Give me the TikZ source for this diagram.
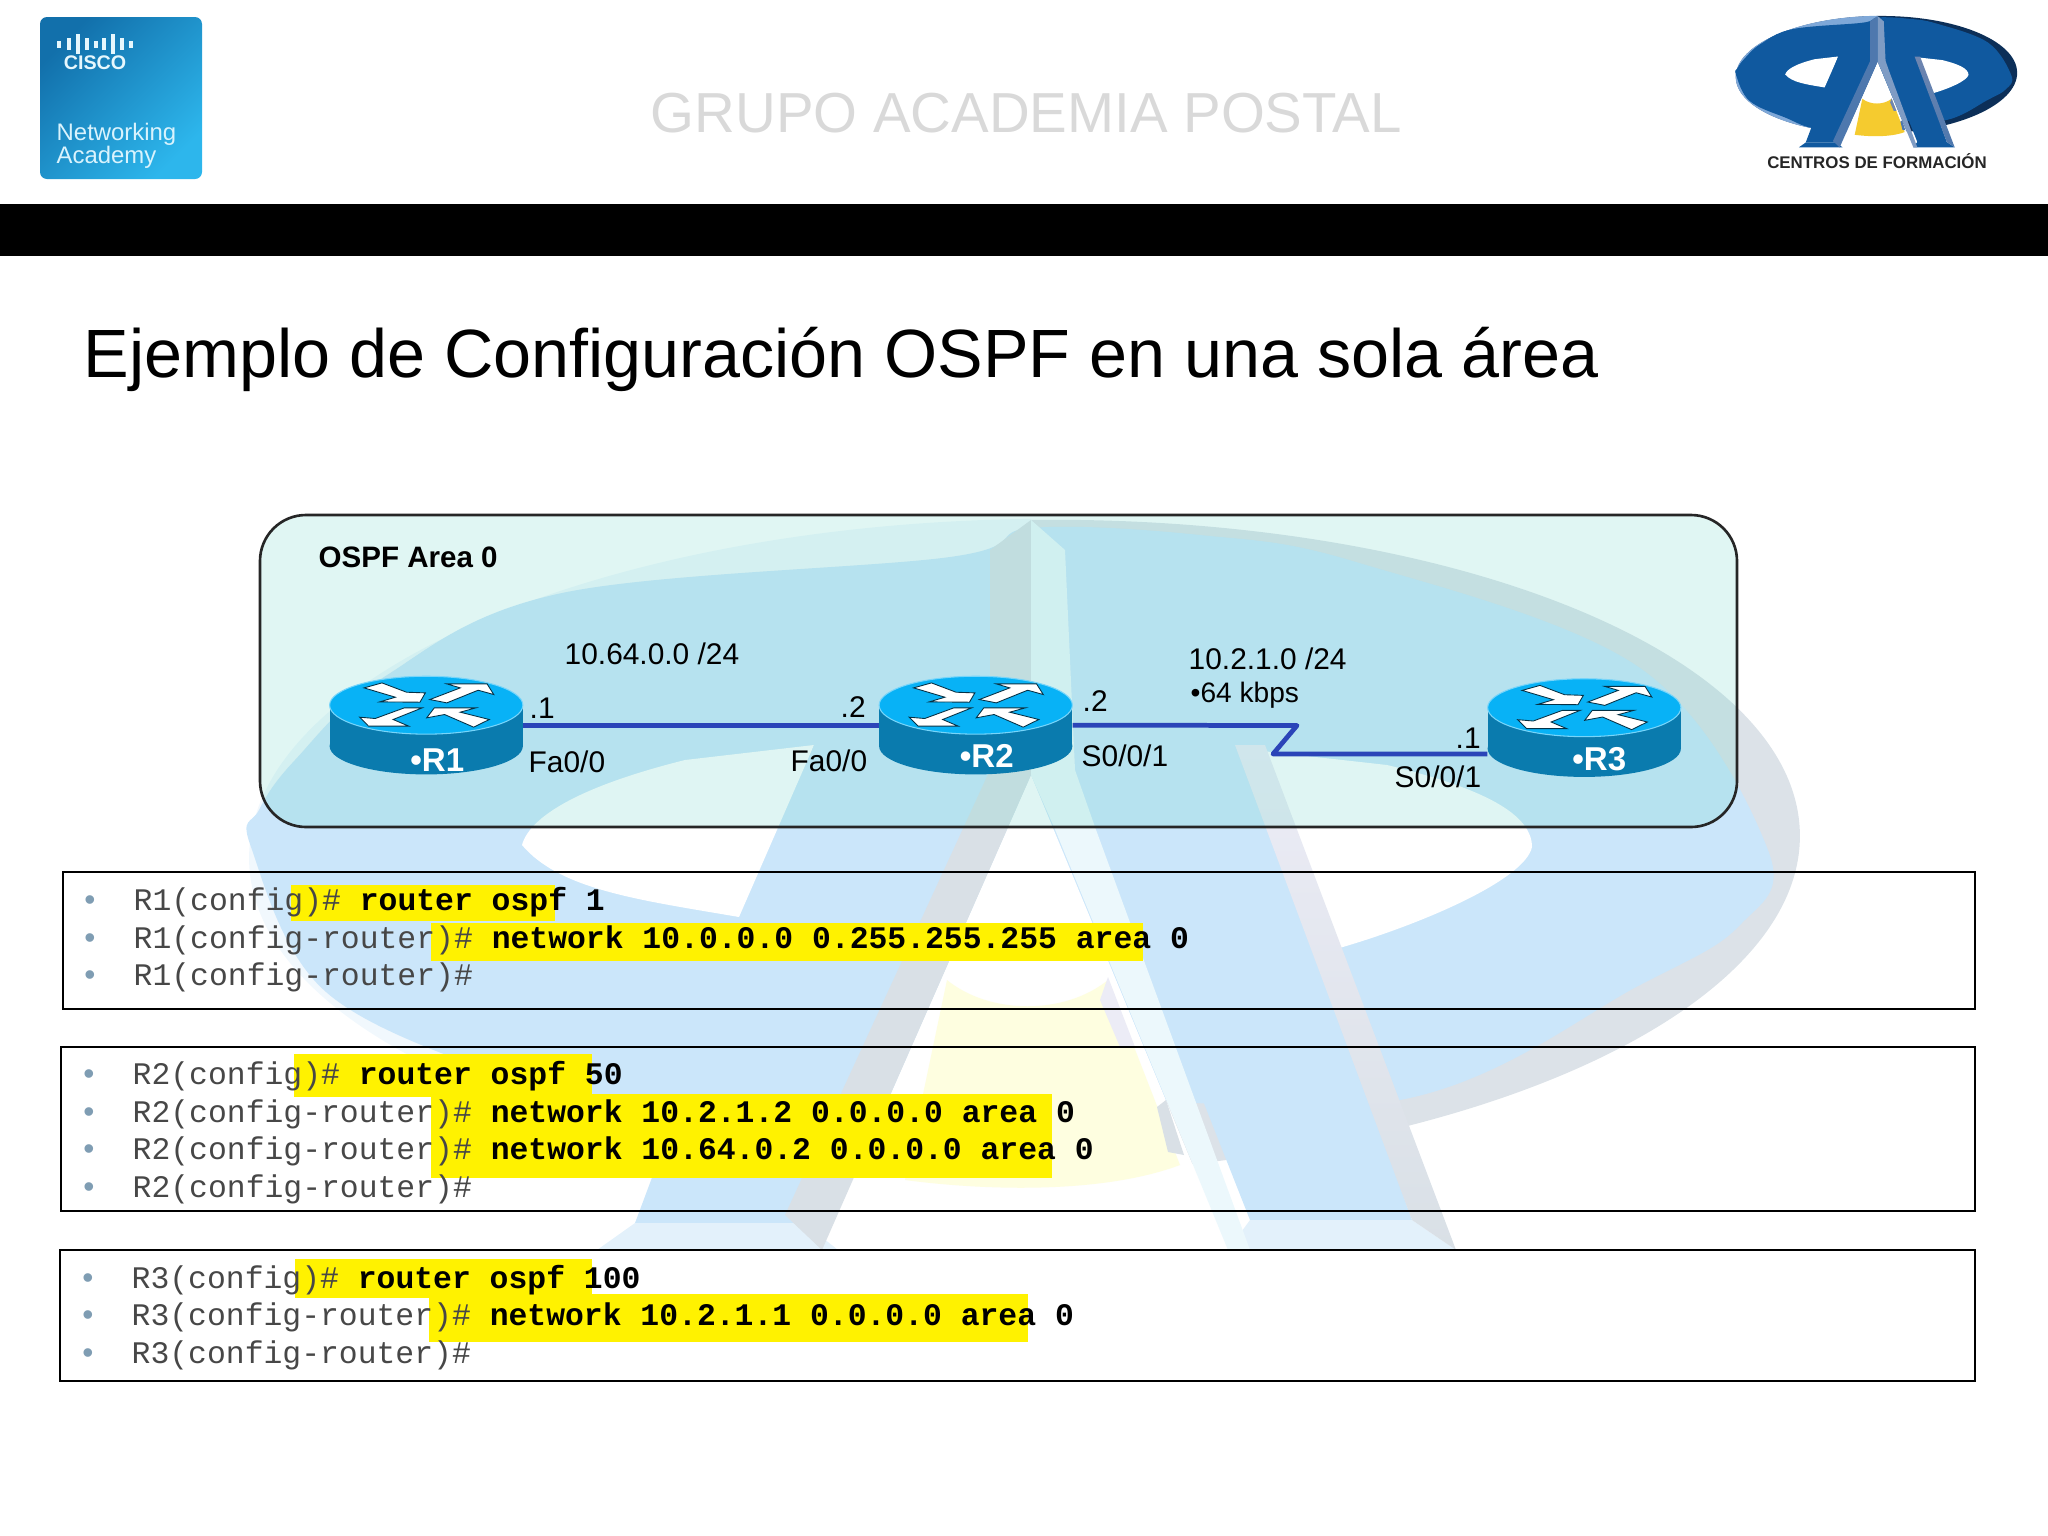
\documentclass[tikz,border=0pt]{standalone}
\usepackage{fontspec}
\setmainfont{Liberation Sans}
\setmonofont{Liberation Mono}
\definecolor{linkblue}{HTML}{2B44B8}
\definecolor{routertop}{HTML}{08B2F6}
\definecolor{routerside}{HTML}{0A7BAE}
\definecolor{areatint}{rgb}{0.42,0.83,0.78}
\definecolor{bulletblue}{HTML}{7F9DB3}
\definecolor{ciscodark}{HTML}{1270AB}
\definecolor{ciscolight}{HTML}{2DB6EC}
\newcommand{\markshape}{%
  \fill[markedge, shift={(1025,847)}, rotate=1] (0,0) ellipse [x radius=775, y radius=327];
  \begin{scope}
    \clip (0,0) rectangle (1031,1300);
    \fill[markhigh, shift={(1025,847)}, rotate=1] (0,0) ellipse [x radius=776, y radius=328];
  \end{scope}
  \fill[markblue] plot[smooth cycle, tension=.6] coordinates {(1031,528) (1200,535) (1356,562) (1640,668) (1768,850) (1740,925) (1640,985) (1400,1100) (1031,1100) (710,1146) (522,1084) (326,992) (251,847) (259,810) (295,760) (384,677) (562,593) (950,557)};
  \fill[white] (522,845) .. controls (530,816) and (581,786) .. (685,760) -- (814,745) -- (739,917) .. controls (640,900) and (560,890) .. cycle;
  \fill[white] (1253,750) -- (1387,765) .. controls (1470,785) and (1532,810) .. (1532,847) .. controls (1525,880) and (1420,925) .. (1336,949) -- cycle;
  \fill[white] (1031,775) -- (822,1250) -- (1228,1250) -- cycle;
  \fill[markblue] (814,745) -- (635,1223) -- (804,1223) -- (990,770) -- (990,560) -- cycle;
  \fill[markblue] (1062,560) -- (1095,827) -- (1250,1220) -- (1412,1220) -- (1262,800) -- (1253,560) -- cycle;
  \fill[markcap] (635,1223) -- (804,1223) -- (838,1250) -- (597,1250) -- cycle;
  \fill[markcap] (1250,1220) -- (1412,1220) -- (1456,1250) -- (1228,1250) -- cycle;
  \fill[markleft] (1031,520) -- (990,550) -- (990,770) -- (785,1215) -- (822,1250) -- (1031,775) -- cycle;
  \fill[markbevel] (1031,520) -- (1065,550) -- (1075,770) -- (1095,827) -- (1250,1250) -- (1228,1250) -- (1054,827) -- (1031,775) -- cycle;
  \shade[top color=markband, bottom color=markleft] (1235,745) -- (1265,745) -- (1456,1250) -- (1412,1220) -- cycle;
  \fill[markyellow] (947,980) .. controls (990,1015) and (1065,1015) .. (1108,980) -- (1180,1165) .. controls (1100,1195) and (980,1190) .. (905,1180) -- cycle;
  \fill[markband] (1108,977) -- (1135,1047) -- (1120,1047) -- (1100,1000) -- cycle;
  \fill[markleft] (1157,1107) -- (1166,1100) -- (1184,1155) -- (1168,1152) -- cycle;
}
\begin{document}
\begin{tikzpicture}[x=0.01cm, y=-0.01cm]
    \tikzstyle{lbl}=[anchor=west, inner sep=0pt, font=\fontsize{8.5}{10}\selectfont]
    \tikzstyle{prompt}=[anchor=base west, inner sep=0pt, text=black!72, font=\ttfamily\fontsize{8.93}{10}\selectfont]
    \tikzstyle{dot}=[anchor=base, inner sep=0pt, text=bulletblue, font=\fontsize{9}{10}\selectfont]
    \tikzstyle{hilite}=[fill=yellow]
    \tikzstyle{cfgbox}=[draw=black, line width=0.8pt]
    \tikzstyle{link}=[draw=linkblue, line width=1.35pt, line join=round]
    \tikzstyle{routerbox}=[minimum width=1.92cm, minimum height=0.98cm, inner sep=0pt]
    \tikzstyle{routertag}=[text=white, inner sep=0pt, font=\bfseries\fontsize{9.4}{10}\selectfont]
    \tikzstyle{routerarrow}=[fill=white, draw=black!60!routerside, line width=0.25pt]
    \useasboundingbox (0,0) rectangle (2048,1536);

    \begin{scope}
      \definecolor{markblue}{HTML}{CBE6FA}
      \definecolor{markedge}{HTML}{DCE2E8}
      \definecolor{markhigh}{HTML}{F1F8FD}
      \definecolor{markleft}{HTML}{D9E0E6}
      \definecolor{markband}{HTML}{ECECF6}
      \definecolor{markcap}{HTML}{E3F1FB}
      \definecolor{markbevel}{HTML}{ECF8FC}
      \definecolor{markyellow}{HTML}{FEFEE0}
      \markshape
    \end{scope}

    \draw[fill=areatint, fill opacity=0.21, draw=black!85, line width=0.75pt, rounded corners=0.46cm] (260,515) rectangle (1737,827);
    \node[anchor=west, inner sep=0pt, font=\bfseries\fontsize{8.4}{10}\selectfont] (areaname) at (318,557) {OSPF Area 0};

    \fill[black] (0,204) rectangle (2048,256);
    \node[anchor=base west, inner sep=0pt, text=black!15, font=\fontsize{16.04}{18}\selectfont] (grupo) at (650,132) {GRUPO ACADEMIA POSTAL};
    \node[anchor=base west, inner sep=0pt, font=\fontsize{19.42}{22}\selectfont] (title) at (83,377) {Ejemplo de Configuración OSPF en una sola área};

    \shade[top color=ciscodark, bottom color=ciscolight, shading angle=45, rounded corners=0.07cm] (40,17) rectangle (202,179);
    \foreach \x/\h in {59/7, 69/12, 78/20, 87/12, 96/7, 104/12, 113/20, 122/12, 131/7} {
      \fill[white!90!cyan] ({\x-1.7},{44-\h/2}) rectangle ({\x+1.7},{44+\h/2});
    }
    \node[inner sep=0pt, text=white!90!cyan, font=\bfseries\fontsize{5.6}{6}\selectfont] (ciscoword) at (95,63) {CISCO};
    \node[anchor=north west, inner sep=0pt, align=left, text=white!85!cyan, font=\fontsize{6.8}{6.6}\selectfont] (netacad) at (56,122) {Networking\\Academy};

    \begin{scope}[shift={(1736,16)}, xscale=0.1815, yscale=0.18, shift={(-251,-520)}]
      \definecolor{markblue}{HTML}{10599F}
      \definecolor{markedge}{HTML}{0C2F58}
      \definecolor{markhigh}{HTML}{7FA8D8}
      \definecolor{markleft}{HTML}{4E78AE}
      \definecolor{markband}{HTML}{6F86B0}
      \definecolor{markcap}{HTML}{10599F}
      \definecolor{markbevel}{HTML}{7F9CC4}
      \definecolor{markyellow}{HTML}{F5CB2F}
      \markshape
    \end{scope}
    \node[inner sep=0pt, text=black!85, font=\bfseries\fontsize{4.8}{6}\selectfont] (centros) at (1877,161) {CENTROS DE FORMACIÓN};

    \foreach \name/\ox/\oy/\tx/\ty in {R1/250/511.5/0.11/-0.35, R2/799.5/511.5/0.11/-0.31, R3/1408/514/0.15/-0.31} {
      \begin{scope}[shift={(\ox,\oy)}, x=0.004464cm, y=-0.003333cm]
        \fill[routerside] (178,582) rectangle (610,705);
        \fill[routerside] (394,705) ellipse [x radius=216, y radius=85];
        \filldraw[fill=routertop, draw=routertop!55!white, line width=0.3pt] (394,582) ellipse [x radius=216, y radius=87];
        \filldraw[routerarrow] (255,530) -- (295,515) -- (350,543) -- (392,545) -- (380,573) -- (290,572) -- (325,558) -- cycle;
        \filldraw[routerarrow] (402,565) -- (470,530) -- (440,518) -- (530,518) -- (545,550) -- (510,537) -- (440,575) -- cycle;
        \filldraw[routerarrow] (345,590) -- (385,590) -- (320,625) -- (355,645) -- (265,645) -- (245,618) -- (280,622) -- cycle;
        \filldraw[routerarrow] (535,625) -- (500,648) -- (435,610) -- (395,620) -- (412,590) -- (505,590) -- (470,603) -- cycle;
        \node[routerbox, label={[routertag, xshift=\tx cm, yshift=\ty cm]center:•\name}] (\name) at (394,642) {};
      \end{scope}
    }

    \coordinate (bendA) at (1297,725.5);
    \coordinate (bendB) at (1273,754);
    \draw[link] (R1.east) -- (R2.west);
    \draw[link] (R2.east) -- (bendA) -- (bendB) -- (bendB -| R3.west);

    \node[lbl] (netA) at (564,654) {10.64.0.0 /24};
    \node[lbl] (hostA) at (529,708) {.1};
    \node[lbl] (portA) at (528,762) {Fa0/0};
    \node[lbl] (hostB) at (840,707) {.2};
    \node[lbl] (portB) at (790,761) {Fa0/0};
    \node[lbl] (hostC) at (1082,701) {.2};
    \node[lbl] (portC) at (1081,756) {S0/0/1};
    \node[lbl] (netB) at (1188,659) {10.2.1.0 /24};
    \node[lbl, font=\fontsize{8}{10}\selectfont] (speed) at (1190,695) {•64 kbps};
    \node[lbl] (hostD) at (1455,738) {.1};
    \node[lbl] (portD) at (1394,777) {S0/0/1};

    \foreach \xa/\ya/\xb/\yb in {291/885/555/921, 431/923/1143/961, 294/1054/592/1097, 431/1094/1052/1178, 295/1259/592/1298, 429/1294/1028/1342} {
      \fill[hilite] (\xa,\ya) rectangle (\xb,\yb);
    }
    \foreach \xa/\ya/\yb in {63/872/1009, 61/1047/1211, 60/1250/1381} {
      \draw[cfgbox] (\xa,\ya) rectangle (1975,\yb);
    }
    \foreach \y/\x/\pre/\cmd in {
      910/133/R1(config)/router ospf 1,
      948/133/R1(config-router)/network 10.0.0.0 0.255.255.255 area 0,
      985/133/R1(config-router)/,
      1084/132/R2(config)/router ospf 50,
      1122/132/R2(config-router)/network 10.2.1.2 0.0.0.0 area 0,
      1159/132/R2(config-router)/network 10.64.0.2 0.0.0.0 area 0,
      1197/132/R2(config-router)/,
      1288/131/R3(config)/router ospf 100,
      1325/131/R3(config-router)/network 10.2.1.1 0.0.0.0 area 0,
      1363/131/R3(config-router)/} {
      \node[dot] (dot\y) at ({\x-43},\y) {•};
      \node[prompt] (line\y) at (\x,\y) {\pre\#\ \textbf{\textcolor{black}{\cmd}}};
    }
  \end{tikzpicture}
\end{document}
